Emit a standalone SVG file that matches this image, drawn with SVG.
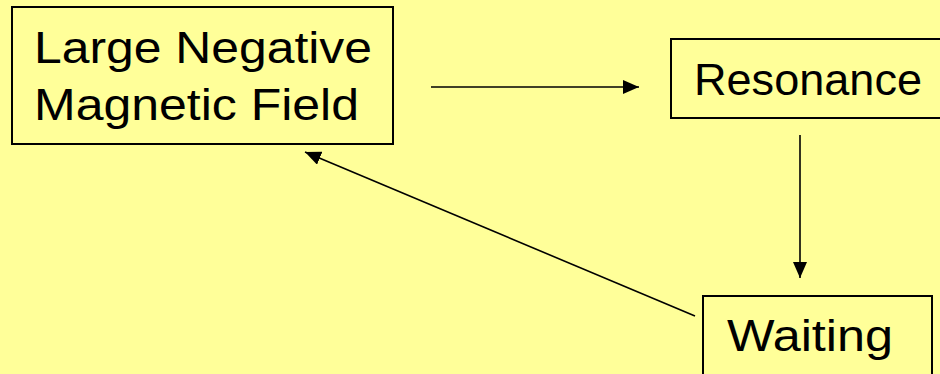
<svg xmlns="http://www.w3.org/2000/svg" width="940" height="374" viewBox="0 0 940 374">
<style>
.box{fill:#FFFF99;stroke:#000;stroke-width:2}
.t{font-family:"Comic Sans MS","Liberation Sans",sans-serif;font-size:45px;fill:#000}
.c{stroke:#000;stroke-width:1.6;fill:none;marker-end:url(#ah)}
</style>
<defs>
<marker id="ah" markerUnits="userSpaceOnUse" markerWidth="18" markerHeight="14" refX="16" refY="7" orient="auto">
<path d="M0,0 L16,7 L0,14 Z" fill="#000"/>
</marker>
</defs>
<rect width="940" height="374" fill="#FFFF99"/>
<g id="node-large">
<rect class="box" x="12" y="7" width="381" height="137"/>
<text class="t" x="34" y="63" textLength="338" lengthAdjust="spacingAndGlyphs">Large Negative</text>
<text class="t" x="34" y="120" textLength="325" lengthAdjust="spacingAndGlyphs">Magnetic Field</text>
</g>
<g id="node-resonance">
<rect class="box" x="671" y="39" width="280" height="79"/>
<text class="t" x="694" y="95" textLength="228" lengthAdjust="spacingAndGlyphs">Resonance</text>
</g>
<g id="node-waiting">
<rect class="box" x="703" y="296" width="229" height="90"/>
<text class="t" x="727" y="351" textLength="166" lengthAdjust="spacingAndGlyphs">Waiting</text>
</g>
<g id="connectors">
<line class="c" x1="431" y1="87" x2="639" y2="87"/>
<line class="c" x1="800" y1="135" x2="800" y2="278"/>
<line class="c" x1="695" y1="316" x2="305" y2="152"/>
</g>
</svg>
